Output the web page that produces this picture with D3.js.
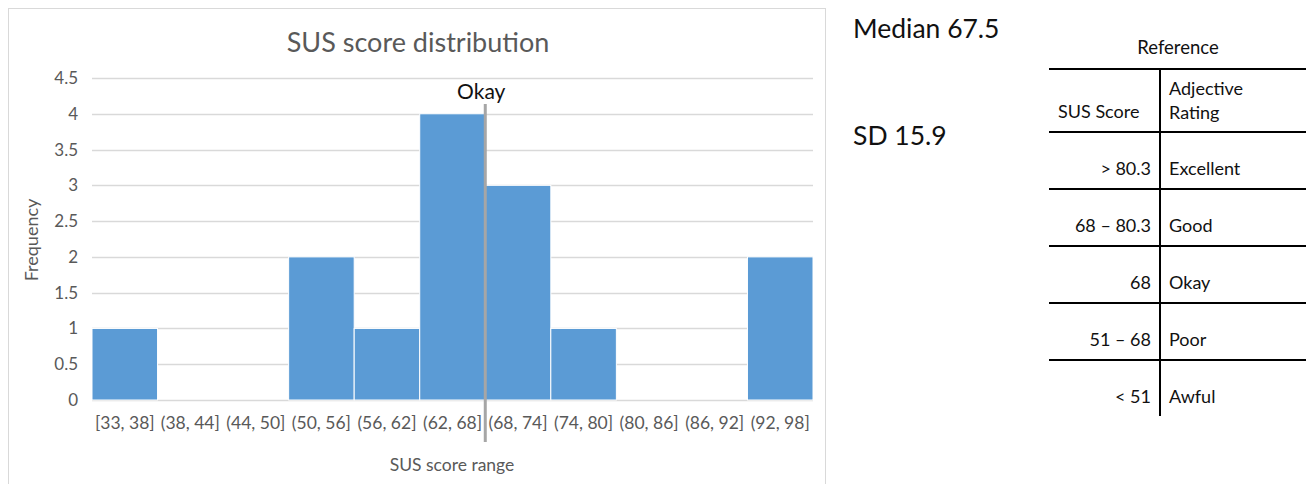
<!DOCTYPE html>
<html>
<head>
<meta charset="utf-8">
<script src="https://cdn.jsdelivr.net/npm/d3@7"></script>
<style>
  html, body { margin: 0; padding: 0; background: #fff; }
  svg { display: block; }
</style>
</head>
<body>
<svg id="chart" width="1306" height="484"></svg>
<script>
// Histogram bins and counts
const bins = ["[33, 38]", "(38, 44]", "(44, 50]", "(50, 56]", "(56, 62]", "(62, 68]",
              "(68, 74]", "(74, 80]", "(80, 86]", "(86, 92]", "(92, 98]"];
const counts = [1, 0, 0, 2, 1, 4, 3, 1, 0, 0, 2];
const yTicks = [0, 0.5, 1, 1.5, 2, 2.5, 3, 3.5, 4, 4.5];

// "Okay" marker sits on the boundary after this bin
const okayLabel = "Okay";
const okayAfterBin = "(62, 68]";

// Summary statistics
const stats = ["Median 67.5", "SD 15.9"];

// Adjective rating reference table
const tableTitle = "Reference";
const headerScore = ["SUS Score"];
const headerAdjective = ["Adjective", "Rating"];
const scoreRanges = ["> 80.3", "68 – 80.3", "68", "51 – 68", "< 51"];
const adjectives = ["Excellent", "Good", "Okay", "Poor", "Awful"];

const font = "Lato, 'Open Sans', sans-serif";
const svg = d3.select("#chart");

// chart frame
svg.append("rect")
  .attr("x", 8.5).attr("y", 8.5).attr("width", 817).attr("height", 490)
  .attr("fill", "#fff").attr("stroke", "#d9d9d9").attr("stroke-width", 1);

const plot = { left: 92, right: 813, top: 78, bottom: 400 };

const x = d3.scaleBand().domain(bins).range([plot.left, plot.right]).padding(0);
const y = d3.scaleLinear().domain([0, 4.5]).range([plot.bottom, plot.top]);

// horizontal gridlines
svg.append("g").selectAll("line").data(yTicks).join("line")
  .attr("x1", plot.left).attr("x2", plot.right)
  .attr("y1", d => Math.round(y(d)) + 0.5).attr("y2", d => Math.round(y(d)) + 0.5)
  .attr("stroke", "#d9d9d9").attr("stroke-width", 1.3);

// y axis labels
const yAxis = d3.axisLeft(y).tickValues(yTicks).tickSize(0).tickPadding(14)
  .tickFormat(d => String(d));
const gy = svg.append("g").attr("transform", `translate(${plot.left},0)`).call(yAxis);
gy.select(".domain").remove();
gy.selectAll("text").attr("font-family", font).attr("font-size", 17).attr("fill", "#595959");

// bars
svg.append("g").selectAll("rect").data(bins.map((b, i) => ({ b, v: counts[i] })).filter(d => d.v > 0))
  .join("rect")
  .attr("x", d => x(d.b)).attr("width", x.bandwidth())
  .attr("y", d => y(d.v)).attr("height", d => y(0) - y(d.v))
  .attr("fill", "#5b9bd5").attr("stroke", "#fff").attr("stroke-width", 1);

// x axis labels
const xAxis = d3.axisBottom(x).tickSize(0).tickPadding(17);
const gx = svg.append("g").attr("transform", `translate(0,${plot.bottom})`).call(xAxis);
gx.select(".domain").remove();
gx.selectAll("text").attr("font-family", font).attr("font-size", 17.5).attr("fill", "#595959");

// "Okay" threshold line
const okayX = x(okayAfterBin) + x.bandwidth();
svg.append("line")
  .attr("x1", okayX).attr("x2", okayX).attr("y1", 104).attr("y2", 442)
  .attr("stroke", "#a6a6a6").attr("stroke-width", 3);
svg.append("text")
  .attr("x", okayX - 4).attr("y", 99).attr("text-anchor", "middle")
  .attr("font-family", font).attr("font-size", 21).attr("fill", "#111")
  .text(okayLabel);

// titles
svg.append("text")
  .attr("x", 418).attr("y", 52).attr("text-anchor", "middle")
  .attr("font-family", font).attr("font-size", 27).attr("fill", "#595959")
  .text("SUS score distribution");
svg.append("text")
  .attr("x", 452).attr("y", 471).attr("text-anchor", "middle")
  .attr("font-family", font).attr("font-size", 17.5).attr("fill", "#595959")
  .text("SUS score range");
svg.append("text")
  .attr("transform", `translate(38,${(plot.top + plot.bottom) / 2 + 1}) rotate(-90)`)
  .attr("text-anchor", "middle")
  .attr("font-family", font).attr("font-size", 18).attr("fill", "#595959")
  .text("Frequency");

// summary statistics
svg.append("g").selectAll("text").data(stats).join("text")
  .attr("x", 853).attr("y", (d, i) => i === 0 ? 38 : 145)
  .attr("font-family", font).attr("font-size", 26.5).attr("fill", "#111")
  .text(d => d);

// reference table
const tbl = svg.append("g").attr("font-family", font).attr("fill", "#111");
const tLeft = 1049, tRight = 1306, tDiv = 1160;
const rowLines = [69, 132, 189, 246, 303, 360];
const rowBottom = 416;

tbl.append("text").attr("x", 1178).attr("y", 54).attr("text-anchor", "middle")
  .attr("font-size", 18.5).text(tableTitle);

tbl.selectAll("line.h").data(rowLines).join("line").attr("class", "h")
  .attr("x1", tLeft).attr("x2", tRight).attr("y1", d => d).attr("y2", d => d)
  .attr("stroke", "#000").attr("stroke-width", 2);
tbl.append("line")
  .attr("x1", tDiv).attr("x2", tDiv).attr("y1", rowLines[0]).attr("y2", rowBottom)
  .attr("stroke", "#000").attr("stroke-width", 2);

tbl.append("text").attr("x", 1058).attr("y", 118).attr("font-size", 18).text(headerScore[0]);
tbl.selectAll("text.adj").data(headerAdjective).join("text").attr("class", "adj")
  .attr("x", 1169).attr("y", (d, i) => 95 + i * 24).attr("font-size", 18).text(d => d);

tbl.selectAll("text.score").data(scoreRanges).join("text").attr("class", "score")
  .attr("x", 1151).attr("y", (d, i) => rowLines[i + 1] + 43).attr("text-anchor", "end")
  .attr("font-size", 18).text(d => d);
tbl.selectAll("text.rating").data(adjectives).join("text").attr("class", "rating")
  .attr("x", 1169).attr("y", (d, i) => rowLines[i + 1] + 43)
  .attr("font-size", 18).text(d => d);
</script>
</body>
</html>
